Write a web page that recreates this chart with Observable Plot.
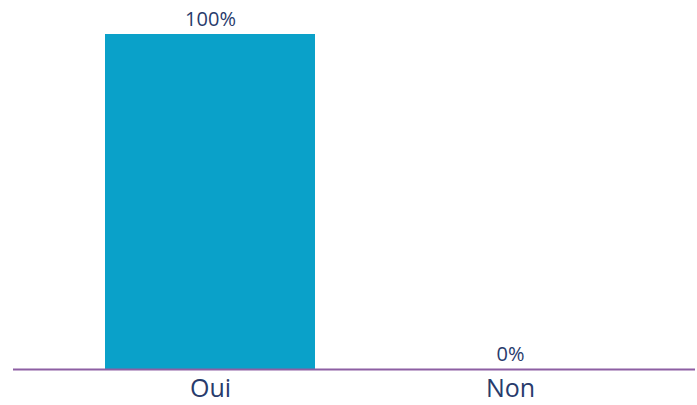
<!DOCTYPE html>
<html>
<head>
<meta charset="utf-8">
<script src="https://cdn.jsdelivr.net/npm/d3@7"></script>
<script src="https://cdn.jsdelivr.net/npm/@observablehq/plot@0.6"></script>
<style>
  html, body { margin: 0; padding: 0; background: #ffffff; }
  #chart svg { display: block; }
</style>
</head>
<body>
<div id="chart"></div>
<script>
const categories = ["Oui", "Non"];
const values = [100, 0];
const valueLabels = ["100%", "0%"];

const data = categories.map((c, i) => ({category: c, value: values[i], label: valueLabels[i]}));

const textColor = "#283b6c";
const chart = Plot.plot({
  width: 697,
  height: 405,
  marginTop: 34,
  marginBottom: 36,
  marginLeft: 13,
  marginRight: 2,
  style: {fontFamily: "Open Sans, sans-serif", background: "#ffffff"},
  x: {domain: categories, paddingInner: 0.3, paddingOuter: 0.283, align: 0.535, label: null},
  y: {domain: [0, 100], axis: null},
  marks: [
    Plot.barY(data, {x: "category", y: "value", fill: "#0aa1c9"}),
    Plot.ruleY([0], {stroke: "#8d5fa3", strokeWidth: 2}),
    Plot.text(data, {x: "category", y: "value", text: "label", dy: -15, fill: textColor, fontSize: 20}),
    Plot.axisX({tickSize: 0, tickPadding: 10, fontSize: 25, color: textColor, label: null})
  ]
});
document.getElementById("chart").append(chart);
</script>
</body>
</html>
